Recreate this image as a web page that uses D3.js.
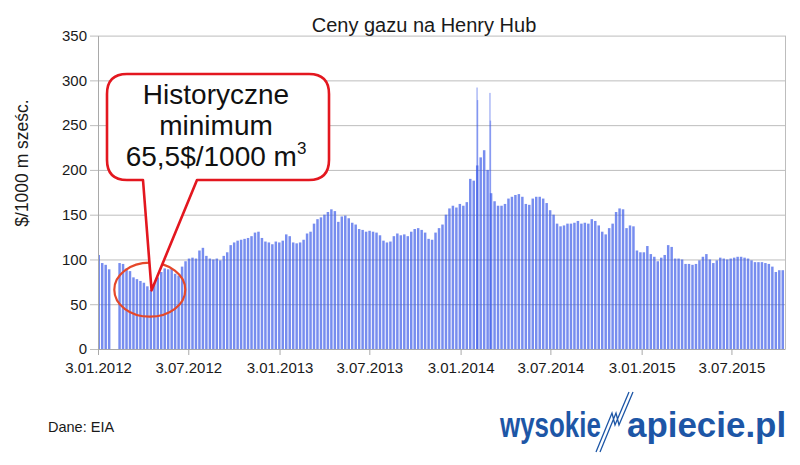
<!DOCTYPE html>
<html><head><meta charset="utf-8">
<script src="https://cdn.jsdelivr.net/npm/d3@7"></script>
<style>
body{margin:0;background:#fff}
svg{display:block}
text{font-family:"Liberation Sans",Arial,sans-serif}
</style>
</head><body>
<svg id="c" width="800" height="465"></svg>
<script>
// ---- data ----
const title = "Ceny gazu na Henry Hub";
const yTitle = "$/1000 m sześc.";
const source = "Dane: EIA";
const firstWeek = "2012-01-02"; // Monday of the first weekly column
// weekly price level, $/1000 m3 (null = no data)
const weeklyValues = [
 105, 96, 94, 89, null, null, 96, 95, 90, 87,
 80, 78, 76, 74, 70, 66, 76, 80, 86, 90,
 89, 90, 84, 82, 92, 98, 101, 102, 101, 110,
 113, 104, 101, 100, 101, 99, 104, 108, 116, 119,
 121, 122, 123, 124, 126, 130, 131, 124, 120, 119,
 117, 120, 119, 121, 128, 126, 119, 118, 119, 122,
 129, 131, 140, 145, 147, 150, 153, 156, 154, 142,
 148, 149, 146, 141, 139, 134, 133, 131, 132, 131,
 130, 127, 121, 119, 120, 126, 129, 127, 128, 126,
 131, 134, 135, 133, 130, 123, 122, 130, 135, 139,
 150, 157, 160, 158, 162, 160, 164, 190, 188, 205,
 214, 222, 200, 174, 165, 160, 160, 162, 168, 170,
 172, 173, 170, 162, 161, 168, 170, 170, 168, 163,
 155, 150, 140, 137, 138, 140, 140, 141, 143, 140,
 141, 140, 145, 143, 138, 131, 128, 135, 140, 153,
 157, 156, 135, 138, 137, 110, 108, 108, 115, 106,
 103, 98, 102, 105, 116, 114, 101, 101, 100, 95,
 95, 94, 95, 99, 103, 106, 100, 96, 99, 102,
 101, 100, 101, 102, 103, 103, 102, 101, 99, 97,
 97, 97, 96, 95, 92, 86, 88, 88
];
// single-day price spikes (February / March 2014)
const spikeDates = ["2014-02-05", "2014-02-06", "2014-03-03", "2014-03-04"];
const spikeValues = [292, 278, 286, 255];
const yTicks = [0, 50, 100, 150, 200, 250, 300, 350];
const xTickDates = ["2012-01-03","2012-07-03","2013-01-03","2013-07-03","2014-01-03","2014-07-03","2015-01-03","2015-07-03"];
const xTickLabels = ["3.01.2012","3.07.2012","3.01.2013","3.07.2013","3.01.2014","3.07.2014","3.01.2015","3.07.2015"];
const domainStart = "2012-01-03", domainEnd = "2015-10-19";
const calloutLines = ["Historyczne", "minimum", "65,5$/1000 m"];
const calloutSup = "3";
const logoLeft = "wysokie", logoRight = "apiecie.pl";

// ---- drawing ----
const parse = d3.utcParse("%Y-%m-%d");
const svg = d3.select("#c");
const L = 98, R = 785, T = 35.6, B = 349;
const x = d3.scaleUtc().domain([parse(domainStart), parse(domainEnd)]).range([L, R]);
const y = d3.scaleLinear().domain([0, 350]).range([B, T]);

// grid
svg.append("g").selectAll("line").data(yTicks.filter(v => v > 0)).join("line")
  .attr("x1", L).attr("x2", R).attr("y1", d => y(d) + 0.5).attr("y2", d => y(d) + 0.5)
  .attr("stroke", "#bdbdbd").attr("stroke-width", 1);
svg.append("line").attr("x1", R + 0.5).attr("x2", R + 0.5).attr("y1", y(350)).attr("y2", B)
  .attr("stroke", "#bdbdbd");

// weekly columns
const w0 = parse(firstWeek);
const weeks = weeklyValues.map((v, i) => ({ d: d3.utcDay.offset(w0, 7 * i), v }))
  .filter(o => o.v !== null);
svg.append("g").selectAll("rect").data(weeks).join("rect")
  .attr("x", o => Math.max(L, x(o.d)))
  .attr("width", o => x(d3.utcDay.offset(o.d, 5)) - Math.max(L, x(o.d)))
  .attr("y", o => y(o.v))
  .attr("height", o => B - y(o.v))
  .attr("fill", "#3d5ce8").attr("fill-opacity", 0.7);

// daily spikes
svg.append("g").selectAll("rect").data(spikeDates.map((d, i) => ({ d: parse(d), v: spikeValues[i] }))).join("rect")
  .attr("x", o => x(o.d) - 0.6).attr("width", 1.4)
  .attr("y", o => y(o.v)).attr("height", o => B - y(o.v))
  .attr("fill", "#3d5ce8").attr("fill-opacity", 0.45);

// axes
const ya = svg.append("g").attr("transform", `translate(${L},0)`)
  .call(d3.axisLeft(y).tickValues(yTicks).tickSize(8).tickSizeOuter(0).tickPadding(3));
ya.select(".domain").attr("stroke", "#a9a9a9");
ya.selectAll(".tick line").attr("stroke", "#bdbdbd");
ya.selectAll("text").attr("font-size", 15).attr("fill", "#1a1a1a")
  .attr("font-family", '"Liberation Sans",Arial,sans-serif');

const xa = svg.append("g").attr("transform", `translate(0,${B})`)
  .call(d3.axisBottom(x).tickValues(xTickDates.map(parse))
    .tickFormat((d, i) => xTickLabels[i]).tickSize(6).tickSizeOuter(0).tickPadding(7));
xa.select(".domain").attr("stroke", "#a9a9a9");
xa.selectAll(".tick line").attr("stroke", "#a9a9a9");
xa.selectAll("text").attr("font-size", 15).attr("fill", "#1a1a1a")
  .attr("font-family", '"Liberation Sans",Arial,sans-serif');

// titles
svg.append("text").attr("x", 424).attr("y", 32).attr("text-anchor", "middle")
  .attr("font-size", 20).attr("fill", "#1a1a1a").text(title);
svg.append("text").attr("transform", "translate(28,163) rotate(-90)").attr("text-anchor", "middle")
  .attr("font-size", 17.5).attr("fill", "#1a1a1a").text(yTitle);
svg.append("text").attr("x", 48).attr("y", 432).attr("font-size", 14.5).attr("fill", "#1a1a1a").text(source);

// ellipse around the minimum
svg.append("ellipse").attr("cx", 149.8).attr("cy", 289.7).attr("rx", 35.5).attr("ry", 27)
  .attr("fill", "none").attr("stroke", "#e5482a").attr("stroke-width", 2.2);

// callout
const cl = 107, ct = 74, cr = 329, cb = 180, rr = 20;
const tip = [x(parse("2012-04-20")), y(65.5)];
const cp = d3.path();
cp.moveTo(cl + rr, ct);
cp.lineTo(cr - rr, ct);
cp.quadraticCurveTo(cr, ct, cr, ct + rr);
cp.lineTo(cr, cb - rr);
cp.quadraticCurveTo(cr, cb, cr - rr, cb);
cp.lineTo(197, cb);
cp.lineTo(tip[0], tip[1]);
cp.lineTo(143, cb);
cp.lineTo(cl + rr, cb);
cp.quadraticCurveTo(cl, cb, cl, cb - rr);
cp.lineTo(cl, ct + rr);
cp.quadraticCurveTo(cl, ct, cl + rr, ct);
cp.closePath();
svg.append("path").attr("d", cp.toString()).attr("fill", "#fff")
  .attr("stroke", "#e3171f").attr("stroke-width", 2.6).attr("stroke-linejoin", "round");

const ctext = svg.append("text").attr("text-anchor", "middle").attr("font-size", 28).attr("fill", "#111");
calloutLines.forEach((s, i) => {
  ctext.append("tspan").attr("x", 216).attr("y", 104 + 31 * i).text(s);
  if (i === calloutLines.length - 1) {
    ctext.append("tspan").attr("dy", -12).attr("font-size", 17).text(calloutSup);
  }
});

// logo
const logo = svg.append("g");
logo.append("text").attr("transform", "translate(500,437) scale(0.72,1)")
  .attr("font-size", 36).attr("font-weight", "bold").attr("fill", "#1d56a6").text(logoLeft);
logo.append("path").attr("d", "M596,452 L612,413 L615,425 L629,392 M600,452 L616,413 L619,425 L633,392")
  .attr("fill", "none").attr("stroke", "#1d56a6").attr("stroke-width", 1.3);
logo.append("text").attr("transform", "translate(627,437) scale(0.97,1)")
  .attr("font-size", 36).attr("font-weight", "bold").attr("fill", "#1d56a6").text(logoRight);
</script>
</body></html>
